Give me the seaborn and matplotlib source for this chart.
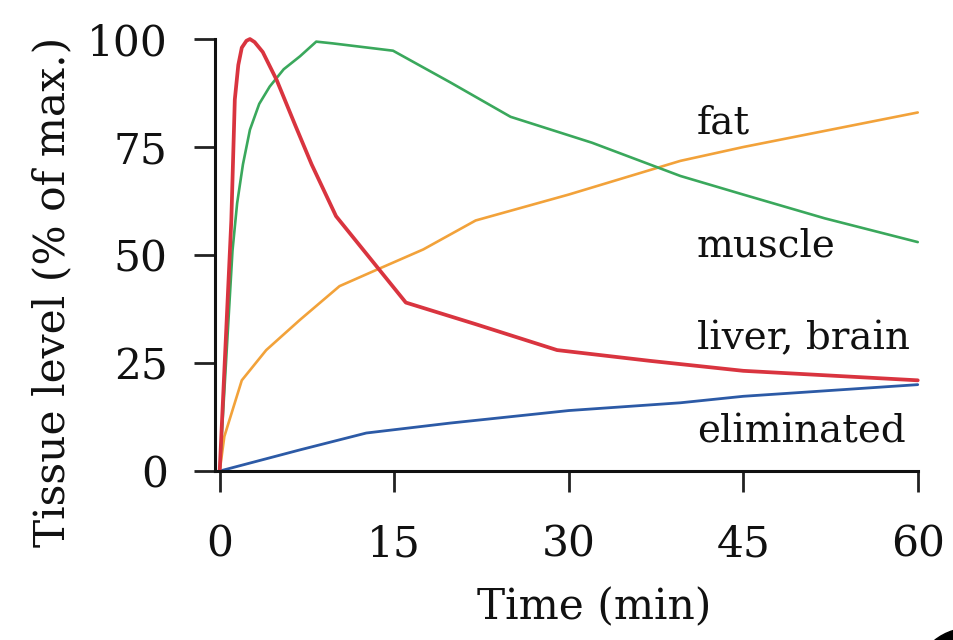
import numpy as np
import pandas as pd
import matplotlib
matplotlib.use('Agg')
import matplotlib.pyplot as plt
import seaborn as sns
from matplotlib.patches import Circle

# values (time in min, level in % of max)
t_liver = [0, 1.0, 1.3, 1.6, 1.9, 2.3, 2.6, 3.0, 3.7, 4.9, 6.5, 7.9, 10, 13, 16, 22, 29, 37, 45, 60]
y_liver = [0, 58, 86, 94, 98, 99.6, 100, 99.3, 97, 90.5, 80, 71, 59, 49, 39, 34, 28, 25.5, 23.2, 21]

t_muscle = [0, 1.1, 1.5, 2.0, 2.6, 3.4, 4.3, 5.5, 6.9, 8.3, 9.7, 14.9, 19.8, 25, 32, 39.6, 45, 52, 60]
y_muscle = [0, 51, 62, 71, 79, 85, 89, 93, 96, 99.4, 99, 97.3, 90, 82, 76, 68.3, 64, 58.5, 53]

t_fat = [0, 0.4, 1.9, 4, 6.9, 10.3, 13.5, 17.5, 22, 30, 39.6, 45, 60]
y_fat = [0, 8, 21, 28, 35, 42.8, 46.6, 51.3, 58, 64, 71.8, 75, 83]

t_elim = [0, 6.9, 12.6, 19.8, 30, 39.6, 45, 60]
y_elim = [0, 4.9, 8.8, 11.1, 14, 15.8, 17.3, 20]

labels = ['fat', 'muscle', 'liver, brain', 'eliminated']
label_y = [80.5, 52, 30.5, 9]
xticks = [0, 15, 30, 45, 60]
yticks = [0, 25, 50, 75, 100]

sns.set_style('ticks')
plt.rcParams['font.family'] = ['DejaVu Serif']
fs_tick = 30.5
fs_text = 28

fig = plt.figure(figsize=(9.54, 6.4), dpi=100)
ax = fig.add_axes([0.2254, 0.264, 0.7366, 0.675])

series = [
    (t_fat, y_fat, '#f2a23a', 1.9),
    (t_muscle, y_muscle, '#3aa85c', 1.9),
    (t_elim, y_elim, '#2c5aa6', 2.0),
    (t_liver, y_liver, '#d9343f', 2.7),
]
for tt, yy, col, lw in series:
    df = pd.DataFrame({'t': tt, 'y': yy})
    sns.lineplot(data=df, x='t', y='y', ax=ax, color=col, linewidth=lw,
                 clip_on=False, estimator=None, sort=False)

ax.set_xlim(-0.4, 60)
ax.set_ylim(0, 100)
ax.set_xticks(xticks)
ax.set_yticks(yticks)
ax.tick_params(axis='both', labelsize=fs_tick, length=15, width=2, color='#222222',
               labelcolor='#111111')
ax.tick_params(axis='y', pad=19)
ax.tick_params(axis='x', pad=23)
for s in ['top', 'right']:
    ax.spines[s].set_visible(False)
for s in ['left', 'bottom']:
    ax.spines[s].set_linewidth(2.2)
    ax.spines[s].set_color('#111111')

ax.set_xlabel('Time (min)', fontsize=fs_tick, color='#111111')
ax.set_ylabel('Tissue level (% of max.)', fontsize=fs_tick, color='#111111')
ax.xaxis.set_label_coords(594 / 954, 33 / 640, transform=fig.transFigure)
ax.yaxis.set_label_coords(52 / 954, 348 / 640, transform=fig.transFigure)
ax.xaxis.label.set_va('center')
ax.yaxis.label.set_va('center')

for lab, ly in zip(labels, label_y):
    ax.text(41, ly, lab, fontsize=fs_text, va='center', ha='left', color='#111111')

# black blob in the bottom right corner
fig.patches.append(Circle((970, -45), 57, transform=None, color='black'))

fig.savefig('out.png', dpi=100)
